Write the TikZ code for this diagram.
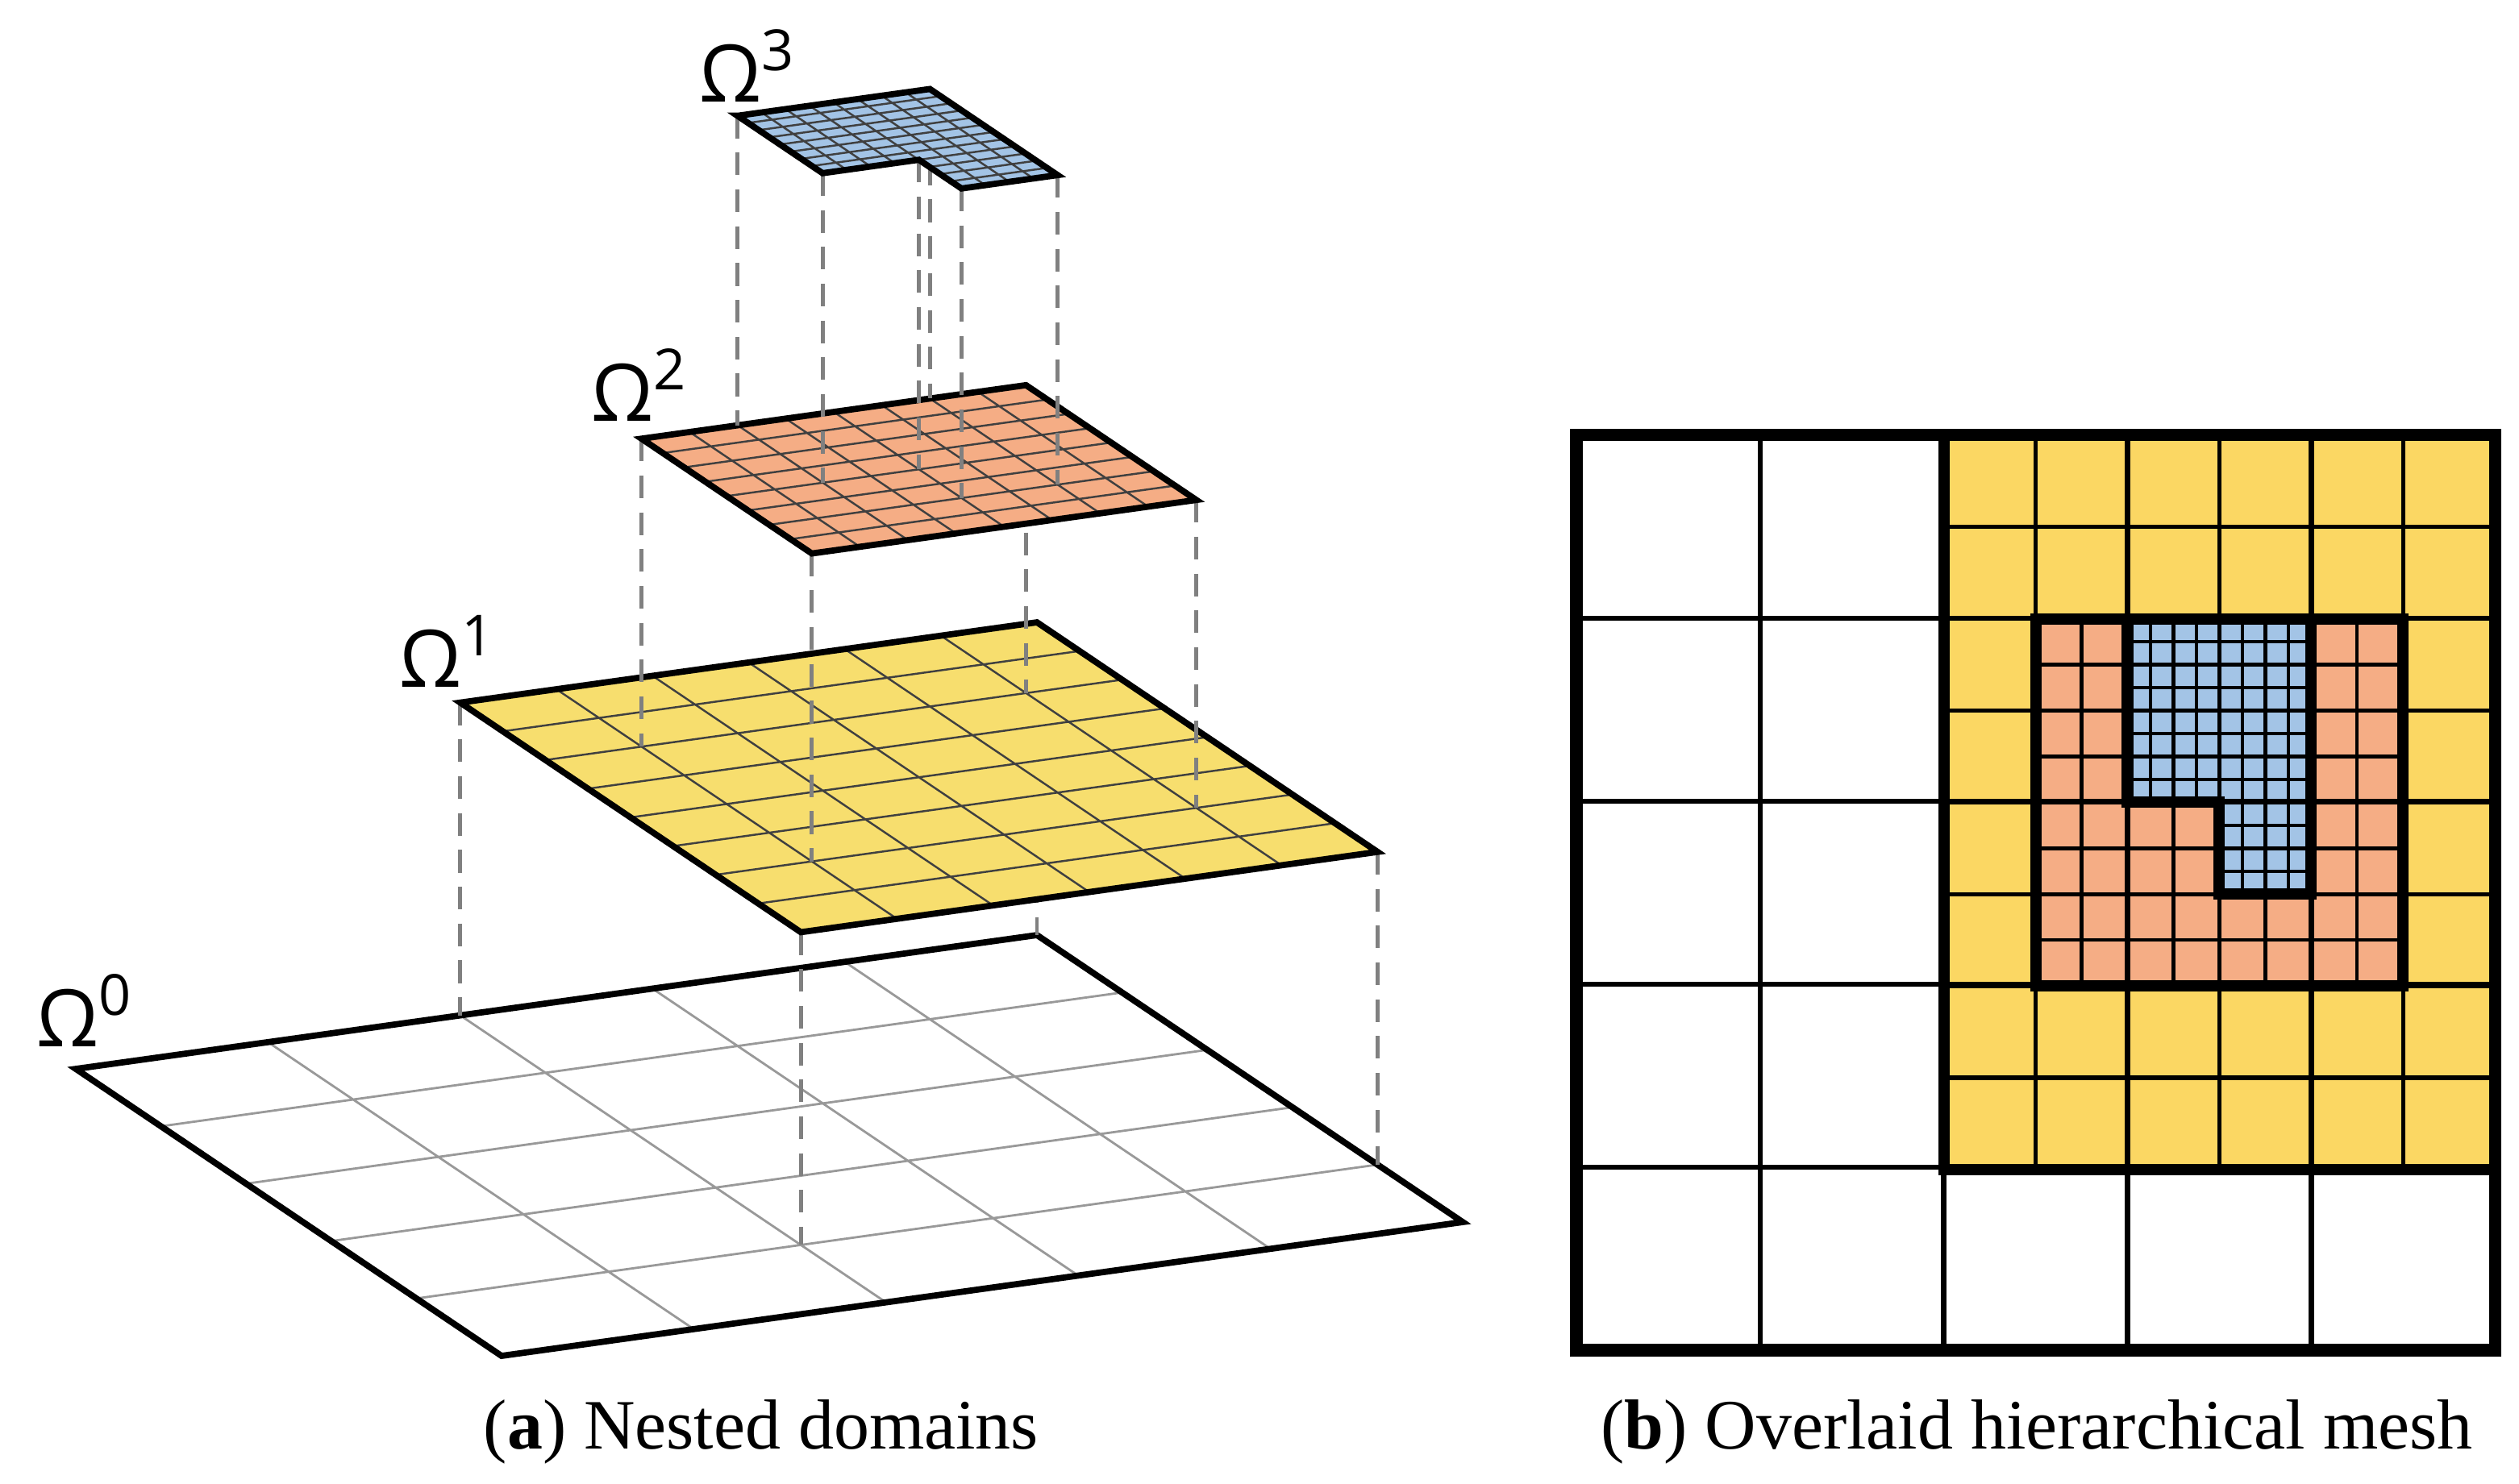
\documentclass[tikz,border=0pt]{standalone}
\usepackage{fontspec}
\setmainfont{Liberation Serif}
\newfontfamily\omf{Open Sans}
\definecolor{yel}{HTML}{F7DE6E}
\definecolor{yelb}{HTML}{FBD763}
\definecolor{ora}{HTML}{F5AD85}
\definecolor{blu}{HTML}{A3C4E6}
\tikzset{
 fine/.style={black!75,line width=0.35pt},
 edge/.style={black,line width=1.1pt},
 drop/.style={gray,dash pattern=on 4pt off 2.5pt,line width=0.7pt},
 lab/.style={font=\omf\fontsize{14}{14}\selectfont,anchor=south west,inner sep=0pt},
 captxt/.style={font=\fontsize{12.5}{12.5}\selectfont,inner sep=0pt},
 plane/.style={cm={5.96,0.83,2.64,-1.78,(0.47cm,#1)}}
}
\newcommand\om[1]{Ω\raisebox{0.75ex}{\fontsize{10}{10}\selectfont #1}}
\newcommand\fourpts[1]{%
 \coordinate (#1a) at (0.4,0); \coordinate (#1b) at (1,0);
 \coordinate (#1c) at (1,0.8); \coordinate (#1d) at (0.4,0.8);}
\newcommand\orapts[1]{%
 \coordinate (#1a) at (0.5,0.2); \coordinate (#1b) at (0.9,0.2);
 \coordinate (#1c) at (0.9,0.6); \coordinate (#1d) at (0.5,0.6);}
\newcommand\blupts[1]{%
 \coordinate (#1a) at (0.6,0.2); \coordinate (#1b) at (0.8,0.2);
 \coordinate (#1c) at (0.8,0.5); \coordinate (#1d) at (0.7,0.5);
 \coordinate (#1e) at (0.7,0.4); \coordinate (#1f) at (0.6,0.4);}
\newcommand\bgrid[6]{%
 \foreach \i in {0,...,#5} \draw ({#1+(#3-#1)*\i/#5},#2) -- ({#1+(#3-#1)*\i/#5},#4);
 \foreach \j in {0,...,#6} \draw (#1,{#2+(#4-#2)*\j/#6}) -- (#3,{#2+(#4-#2)*\j/#6});}
\begin{document}
\begin{tikzpicture}
\useasboundingbox (0,0) rectangle (15.62,-9.2);
% ---------- (a) ----------
\begin{scope}[plane=-6.63cm]
 \fill[white] (0,0) rectangle (1,1);
 \draw[gray!80,line width=0.4pt] (0,0) grid[step=0.2] (1,1);
 \draw[edge] (0,0) rectangle (1,1);
 \fourpts{z0}
\end{scope}
\begin{scope}[plane=-4.69cm]
 \fourpts{z1}
 \orapts{y1}
\end{scope}
\foreach \n in {a,b,c,d} \draw[drop] (z1\n) -- (z0\n);
\begin{scope}[plane=-4.69cm]
 \fill[yel] (0.4,0) rectangle (1,0.8);
 \draw[fine] (0.4,0) grid[step=0.1] (1,0.8);
 \draw[edge] (0.4,0) rectangle (1,0.8);
\end{scope}
\begin{scope}[plane=-2.78cm]
 \orapts{y2}
 \blupts{x2}
\end{scope}
\foreach \n in {a,b,c,d} \draw[drop] (y2\n) -- (y1\n);
\begin{scope}[plane=-2.78cm]
 \fill[ora] (0.5,0.2) rectangle (0.9,0.6);
 \draw[fine] (0.5,0.2) grid[step=0.05] (0.9,0.6);
 \draw[edge] (0.5,0.2) rectangle (0.9,0.6);
\end{scope}
\begin{scope}[plane=-0.86cm]
 \blupts{x3}
\end{scope}
\foreach \n in {a,b,c,d,e,f} \draw[drop] (x3\n) -- (x2\n);
\begin{scope}[plane=-0.86cm]
 \fill[blu] (0.6,0.2) -| (0.8,0.5) -| (0.7,0.4) -| cycle;
 \begin{scope}
  \clip (0.6,0.2) -| (0.8,0.5) -| (0.7,0.4) -| cycle;
  \draw[fine] (0.6,0.2) grid[step=0.025] (0.8,0.5);
 \end{scope}
 \draw[edge] (0.6,0.2) -| (0.8,0.5) -| (0.7,0.4) -| cycle;
\end{scope}
\node[lab] (o0) at (0.22,-6.5) {\om{0}};
\node[lab] (o1) at (2.47,-4.27) {\om{1}};
\node[lab] (o2) at (3.66,-2.62) {\om{2}};
\node[lab] (o3) at (4.33,-0.64) {\om{3}};
\node[captxt] (ca) at (4.72,-8.88) {(\textbf{a}) Nested domains};
\node[captxt] (cb) at (12.63,-8.88) {(\textbf{b}) Overlaid hierarchical mesh};
% ---------- (b) ----------
\begin{scope}[x=0.01cm,y=-0.01cm]
 \fill[white] (978,270) rectangle (1548,838);
 \fill[yelb] (1206,270) rectangle (1548,726);
 \fill[ora] (1263,384) rectangle (1491,612);
 \fill[blu] (1320,384) -| (1434,555) -| (1377,498) -| cycle;
 \begin{scope}[line width=0.9pt]
  \bgrid{978}{270}{1548}{838}{5}{5}
 \end{scope}
 \begin{scope}[line width=0.8pt]
  \bgrid{1206}{270}{1548}{726}{6}{8}
 \end{scope}
 \begin{scope}[line width=0.6pt]
  \bgrid{1263}{384}{1491}{612}{8}{8}
 \end{scope}
 \begin{scope}[line width=0.5pt]
  \clip (1320,384) -| (1434,555) -| (1377,498) -| cycle;
  \bgrid{1320}{384}{1434}{555}{8}{12}
 \end{scope}
 \draw[line width=2pt] (1206,270) rectangle (1548,726);
 \draw[line width=2pt] (1263,384) rectangle (1491,612);
 \draw[line width=2pt] (1320,384) -| (1434,555) -| (1377,498) -| cycle;
 \draw[line width=2.2pt] (978,270) rectangle (1548,838);
\end{scope}
\end{tikzpicture}
\end{document}
